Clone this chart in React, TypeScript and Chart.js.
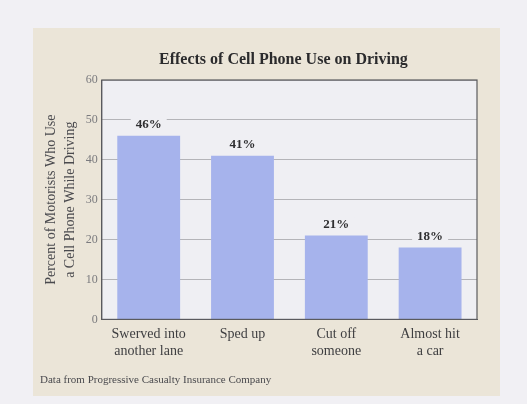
import React, { useEffect, useRef } from "react";
import { Chart, registerables } from "chart.js";

Chart.register(...registerables);

const categories: string[][] = [
  ["Swerved into", "another lane"],
  ["Sped up"],
  ["Cut off", "someone"],
  ["Almost hit", "a car"],
];
const percents: number[] = [46, 41, 21, 18];
const yTicks: number[] = [0, 10, 20, 30, 40, 50, 60];
const titleText = "Effects of Cell Phone Use on Driving";
const yTitle: string[] = ["Percent of Motorists Who Use", "a Cell Phone While Driving"];
const sourceText = "Data from Progressive Casualty Insurance Company";

const SERIF = "'Liberation Serif', 'DejaVu Serif', serif";
const PLOT_BG = "#efeff3";

const plotPlugin = {
  id: "plotDeco",
  beforeDraw(chart: any) {
    const { ctx, chartArea } = chart;
    ctx.save();
    ctx.fillStyle = PLOT_BG;
    ctx.fillRect(chartArea.left, chartArea.top, chartArea.right - chartArea.left, chartArea.bottom - chartArea.top);
    ctx.restore();
  },
  afterDatasetsDraw(chart: any) {
    const { ctx, chartArea } = chart;
    ctx.save();
    ctx.strokeStyle = "#5a5a5e";
    ctx.lineWidth = 1.2;
    ctx.strokeRect(chartArea.left, chartArea.top, chartArea.right - chartArea.left, chartArea.bottom - chartArea.top);
    // title, centred over the plot area
    ctx.font = `bold 16px ${SERIF}`;
    ctx.textAlign = "center";
    ctx.textBaseline = "middle";
    ctx.fillStyle = "#2a2a2c";
    ctx.fillText(titleText, (chartArea.left + chartArea.right) / 2 - 6, chartArea.top - 20);
    // value labels
    const meta = chart.getDatasetMeta(0);
    ctx.font = `bold 13px ${SERIF}`;
    meta.data.forEach((bar: any, i: number) => {
      const txt = `${percents[i]}%`;
      const w = ctx.measureText(txt).width;
      const y = bar.y - 11;
      ctx.fillStyle = PLOT_BG;
      ctx.fillRect(bar.x - w / 2 - 5, y - 7, w + 10, 14);
      ctx.fillStyle = "#2e2e30";
      ctx.fillText(txt, bar.x, y);
    });
    ctx.restore();
  },
};

export default function App() {
  const ref = useRef<HTMLCanvasElement | null>(null);
  useEffect(() => {
    if (!ref.current) return;
    const chart = new Chart(ref.current, {
      type: "bar",
      data: {
        labels: categories,
        datasets: [
          {
            data: percents,
            backgroundColor: "#a6b3ec",
            borderWidth: 0,
            barPercentage: 0.67,
            categoryPercentage: 1,
          },
        ],
      },
      options: {
        responsive: false,
        animation: false,
        layout: { padding: { top: 80, left: 42, right: 50, bottom: 37 } },
        plugins: {
          legend: { display: false },
          tooltip: { enabled: false },
          title: { display: false },
        },
        scales: {
          x: {
            grid: { display: false, drawTicks: false },
            border: { display: true, color: "#5a5a5e" },
            ticks: {
              color: "#3e3e40",
              font: { family: SERIF, size: 14, lineHeight: 1.2 },
              padding: 7,
              maxRotation: 0,
              autoSkip: false,
            },
          },
          y: {
            min: 0,
            max: 60,
            afterBuildTicks(scale: any) {
              scale.ticks = yTicks.map((v) => ({ value: v }));
            },
            grid: { color: "#b4b4b8", drawTicks: false, lineWidth: 1 },
            border: { display: true, color: "#5a5a5e" },
            ticks: {
              color: "#7a7a7e",
              font: { family: SERIF, size: 12 },
              padding: 4,
            },
            title: {
              display: true,
              text: yTitle,
              color: "#4a4a4e",
              font: { family: SERIF, size: 14, lineHeight: 1.35 },
              padding: { top: 0, bottom: 2 },
            },
          },
        },
      },
      plugins: [plotPlugin],
    });
    return () => chart.destroy();
  }, []);

  return (
    <div
      style={{
        position: "absolute",
        left: 0,
        top: 0,
        width: 527,
        height: 404,
        background: "#f1f0f4",
        overflow: "hidden",
      }}
    >
      <div
        style={{
          position: "absolute",
          left: 33,
          top: 28,
          width: 467,
          height: 368,
          background: "#ebe5d8",
        }}
      />
      <canvas ref={ref} width={527} height={404} style={{ position: "absolute", left: 0, top: 0 }} />
      <div
        style={{
          position: "absolute",
          left: 40,
          top: 373,
          fontFamily: SERIF,
          fontSize: 11,
          color: "#4a4a4e",
          whiteSpace: "nowrap",
        }}
      >
        {sourceText}
      </div>
    </div>
  );
}
